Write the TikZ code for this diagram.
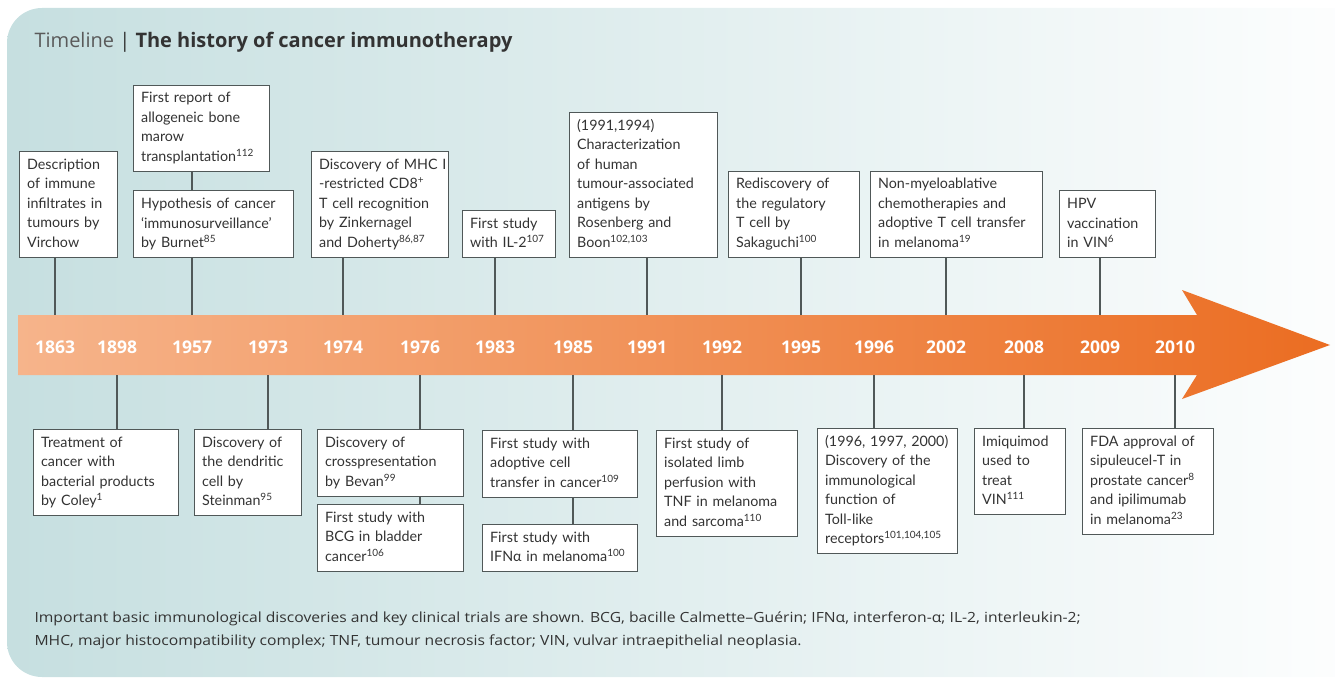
\documentclass[tikz,border=0pt]{standalone}
\usepackage{fontspec}
\setmainfont{Lato}
\newfontfamily\yearfont{Open Sans}
\newfontfamily\notefont[FakeStretch=1.12]{Open Sans}
\usetikzlibrary{positioning,calc}

\definecolor{bgteal}{HTML}{C6DFE0}
\definecolor{bgmid}{HTML}{D8E9EB}
\definecolor{bandleft}{HTML}{F6B48B}
\definecolor{bandright}{HTML}{EB6D22}
\definecolor{boxline}{HTML}{505858}
\definecolor{txt}{HTML}{333333}
\definecolor{titlegray}{HTML}{5A5A5A}

\newcommand{\sref}[1]{\textsuperscript{#1}}

\begin{document}
\begin{tikzpicture}[x=1pt, y=-1pt,
        event/.style={rectangle, draw=boxline, fill=white, line width=1.3pt, align=left, text=txt,
            font=\fontsize{14.3}{19.5}\selectfont, inner xsep=7.5pt, inner ysep=4pt,
            execute at begin node={\hyphenpenalty=10000\strut}, execute at end node=\strut},
        tick/.style={draw=boxline, line width=1.3pt},
        year/.style={text=white, font=\yearfont\fontsize{17.5}{20}\selectfont\bfseries}]
        \useasboundingbox (0,0) rectangle (1335,679);

        % background and time band
        \shade[left color=bgteal, middle color=bgmid, right color=white, rounded corners=35pt]
            (7,8) rectangle (1400,677);
        \shade[left color=bandleft, right color=bandright]
            (18,315) -- (1197,315) -- (1182,290) -- (1330,345) -- (1182,399) -- (1197,375) -- (18,375) -- cycle;
        \coordinate (bandtop) at (0,315);
        \coordinate (bandbot) at (0,375);

        \node[anchor=base west, text=txt, font=\yearfont\fontsize{20}{24}\selectfont] (title) at (31,48)
            {{\color{titlegray}Timeline} | \textbf{The history of cancer immunotherapy}};

        \foreach \yr/\xx in {1863/55, 1898/117, 1957/192, 1973/268, 1974/343, 1976/420, 1983/495, 1985/573,
                1991/647, 1992/722, 1995/801, 1996/874, 2002/946, 2008/1024, 2009/1100, 2010/1175}
            \node[year] (y\yr) at (\xx,347) {\yr};

        % events above the band
        \node [event, anchor=south west, text width=83pt] (virchow) at (19,258)
            {Description\\of immune\\infiltrates in\\tumours by\\Virchow};
        \node [event, anchor=south west, text width=121pt] (allo) at (133,172)
            {First report of\\allogeneic bone\\marow\\transplantation\sref{112}};
        \node [event, anchor=south west, text width=145pt] (burnet) at (133,258)
            {Hypothesis of cancer\\‘immunosurveillance’\\by Burnet\sref{85}};
        \node [event, anchor=south west, text width=122pt] (mhc) at (311,258)
            {\mbox{Discovery of MHC I}\\-restricted CD8\sref{+}\\T cell recognition\\by Zinkernagel\\and Doherty\sref{86,87}};
        \node [event, anchor=south west, text width=78pt] (il2) at (462,258)
            {First study\\with IL-2\sref{107}};
        \node [event, anchor=south west, text width=133pt] (antigens) at (569,258)
            {(1991,1994)\\Characterization\\of human\\tumour-associated\\antigens by\\Rosenberg and\\Boon\sref{102,103}};
        \node [event, anchor=south west, text width=116pt] (treg) at (728,258)
            {Rediscovery of\\the regulatory\\T cell by\\Sakaguchi\sref{100}};
        \node [event, anchor=south west, text width=157pt] (chemo) at (870,258)
            {Non-myeloablative\\chemotherapies and\\adoptive T cell transfer\\in melanoma\sref{19}};
        \node [event, anchor=south west, text width=81pt] (hpv) at (1059,258)
            {HPV\\vaccination\\in VIN\sref{6}};

        % events below the band
        \node [event, anchor=north west, text width=130pt] (coley) at (33,429)
            {Treatment of\\cancer with\\bacterial products\\by Coley\sref{1}};
        \node [event, anchor=north west, text width=92pt] (steinman) at (194,429)
            {Discovery of\\the dendritic\\cell by\\Steinman\sref{95}};
        \node [event, anchor=north west, text width=131pt] (bevan) at (317,429)
            {Discovery of\\crosspresentation\\by Bevan\sref{99}};
        \node [event, anchor=north west, text width=131pt] (bcg) at (317,504)
            {First study with\\BCG in bladder\\cancer\sref{106}};
        \node [event, anchor=north west, text width=140pt] (adoptive) at (482,430)
            {First study with\\adoptive cell\\transfer in cancer\sref{109}};
        \node [event, anchor=north west, text width=140pt] (ifn) at (482,524)
            {First study with\\IFNα in melanoma\sref{100}};
        \node [event, anchor=north west, text width=126pt] (tnf) at (656,430)
            {First study of\\isolated limb\\perfusion with\\TNF in melanoma\\and sarcoma\sref{110}};
        \node [event, anchor=north west, text width=125pt] (toll) at (817,428)
            {(1996, 1997, 2000)\\Discovery of the\\immunological\\function of\\Toll-like\\receptors\sref{101,104,105}};
        \node [event, anchor=north west, text width=76pt] (imiq) at (974,428)
            {Imiquimod\\used to\\treat\\VIN\sref{111}};
        \node [event, anchor=north west, text width=116pt] (fda) at (1082,428)
            {FDA approval of\\sipuleucel-T in\\prostate cancer\sref{8}\\and ipilimumab\\in melanoma\sref{23}};

        % connectors
        \foreach \ev/\yr in {virchow/1863, burnet/1957, mhc/1974, il2/1983, antigens/1991,
                treg/1995, chemo/2002, hpv/2009}
            \path [tick] (\ev.south -| y\yr) -- (bandtop -| y\yr);
        \foreach \ev/\yr in {coley/1898, steinman/1973, bevan/1976, adoptive/1985, tnf/1992,
                toll/1996, imiq/2008, fda/2010}
            \path [tick] (\ev.north -| y\yr) -- (bandbot -| y\yr);
        \path [tick] (allo.south -| y1957) -- (burnet.north -| y1957);
        \path [tick] (bevan.south -| y1976) -- (bcg.north -| y1976);
        \path [tick] (adoptive.south -| y1985) -- (ifn.north -| y1985);

        \node[anchor=west, align=left, text=txt, font=\notefont\fontsize{14}{23}\selectfont] (note) at (31,630)
            {Important basic immunological discoveries and key clinical trials are shown. BCG, bacille Calmette–Guérin; IFNα, interferon-α; IL-2, interleukin-2;\\
             MHC, major histocompatibility complex; TNF, tumour necrosis factor; VIN, vulvar intraepithelial neoplasia.};
    \end{tikzpicture}
\end{document}
